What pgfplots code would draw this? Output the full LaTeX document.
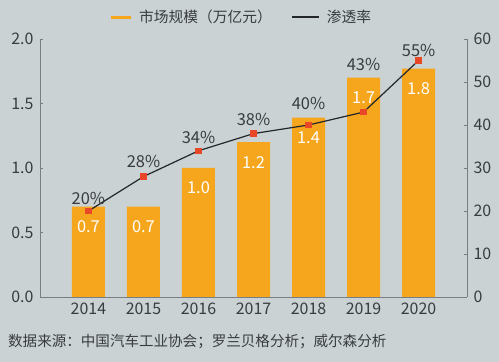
\documentclass[border=0pt]{standalone}
\usepackage{pgfplots}
\pgfplotsset{compat=1.18}
\usepackage{fontspec}
\setmainfont{Noto Sans CJK SC}
\definecolor{bg}{RGB}{203,210,212}
\definecolor{barc}{RGB}{246,166,28}
\definecolor{axc}{RGB}{120,127,130}
\definecolor{txt}{RGB}{55,60,63}
\definecolor{mk}{RGB}{232,72,40}
\definecolor{ln}{RGB}{35,38,42}
\begin{document}
\begin{tikzpicture}
\fill[bg] (0,0) rectangle (499bp,362bp);
\begin{axis}[
  at={(40bp,65bp)}, anchor=south west,
  scale only axis, width=427bp, height=258bp,
  xmin=-0.88, xmax=6.88, ymin=0, ymax=2,
  axis y line*=left, axis x line*=bottom,
  axis line style={draw=axc, line width=0.8bp},
  ytick={0,0.5,1,1.5,2},
  yticklabel style={/pgf/number format/fixed, /pgf/number format/fixed zerofill, /pgf/number format/precision=1, xshift=-3bp},
  /pgf/number format/assume math mode=true,
  xtick={0,...,6}, xticklabels={2014,2015,2016,2017,2018,2019,2020},
  major x tick style={draw=none},
  tick align=inside, major tick length=3bp, tick style={axc, line width=0.8bp},
  ticklabel style={font=\fontsize{16}{18}\selectfont, text=txt},
  xticklabel style={yshift=-2bp},
  legend style={at={(0.471,1.085)}, anchor=center, draw=none, fill=none,
    font=\fontsize{14.8}{16}\selectfont, text=txt, legend columns=2,
    /tikz/every odd column/.append style={column sep=5bp},
    /tikz/every even column/.append style={column sep=18bp}},
]
\addlegendimage{legend image code/.code={\draw[barc, line width=3bp] (0bp,0bp) -- (20bp,0bp);}}
\addlegendentry{市场规模（万亿元）}
\addlegendimage{legend image code/.code={\draw[ln, line width=1.2bp] (0bp,0bp) -- (27bp,0bp);}}
\addlegendentry{渗透率}
\addplot[ybar, bar width=33bp, fill=barc, draw=none,
  nodes near coords,
  nodes near coords style={white, anchor=center, yshift=-20bp, font=\fontsize{16.5}{18}\selectfont,
    /pgf/number format/fixed, /pgf/number format/fixed zerofill, /pgf/number format/precision=1}]
  coordinates {(0,0.70) (1,0.70) (2,1.00) (3,1.20) (4,1.39) (5,1.70) (6,1.77)};
\end{axis}
\begin{axis}[
  at={(40bp,65bp)}, anchor=south west,
  scale only axis, width=427bp, height=258bp,
  xmin=-0.88, xmax=6.88, ymin=0, ymax=60,
  axis y line*=right, axis x line=none,
  axis line style={draw=axc, line width=0.8bp},
  ytick={0,10,...,60},
  /pgf/number format/assume math mode=true,
  tick align=inside, major tick length=3bp, tick style={axc, line width=0.8bp},
  ticklabel style={font=\fontsize{16}{18}\selectfont, text=txt},
  yticklabel style={xshift=3bp},
]
\addplot[ln, line width=1.2bp, mark=square*, mark size=2.5bp,
  mark options={fill=mk, draw=mk}]
  coordinates {(0,20) (1,28) (2,34) (3,38) (4,40) (5,43) (6,55)};
\addplot[only marks, mark=none, point meta=explicit symbolic,
  nodes near coords, nodes near coords align=center,
  nodes near coords style={text=txt, anchor=center, font=\fontsize{16.5}{18}\selectfont}]
  coordinates {(0,23.0)[20\%] (1,31.6)[28\%] (2,37.0)[34\%] (3,41.2)[38\%]
               (4,45.1)[40\%] (5,54.0)[43\%] (6,57.4)[55\%]};
\end{axis}
\node[anchor=west, text=txt, font=\fontsize{14.6}{16}\selectfont, inner sep=0pt] at (8bp,20bp)
  {数据来源：中国汽车工业协会；罗兰贝格分析；威尔森分析};
\pgfresetboundingbox
\path (0,0) rectangle (499bp,362bp);
\end{tikzpicture}
\end{document}
